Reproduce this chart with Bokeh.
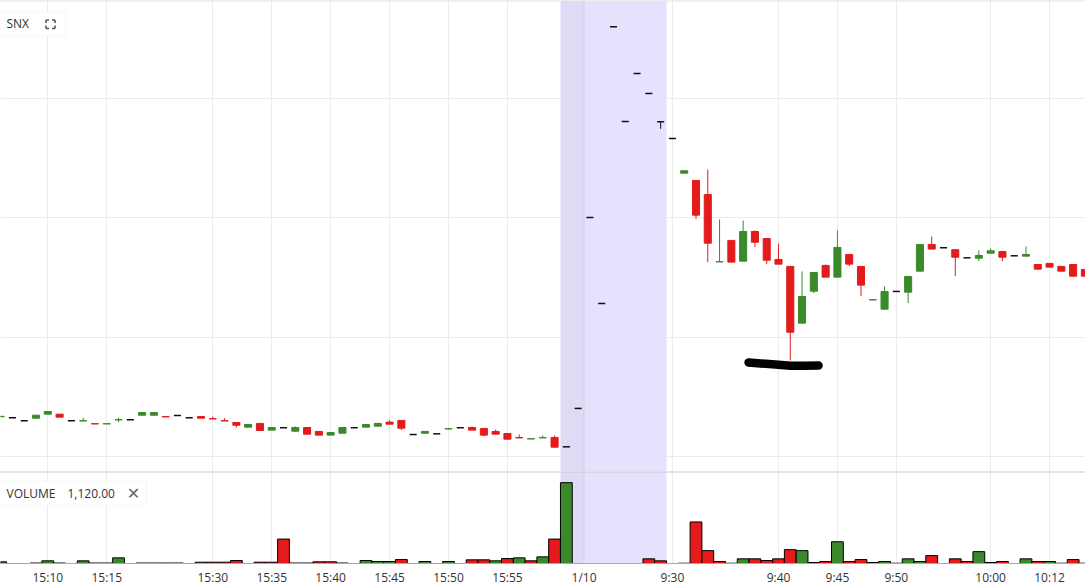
from bokeh.plotting import figure
from bokeh.layouts import column
from bokeh.models import Range1d, FixedTicker, BoxAnnotation, Span, Label, ColumnDataSource
from bokeh.embed import file_html
from bokeh.resources import INLINE

# ---------------- data ----------------
symbol = "SNX"
tick_pos = [4, 9, 18, 23, 28, 33, 38, 43, 49.5, 57, 66, 71, 76, 84, 89]
tick_labels = ["15:10", "15:15", "15:30", "15:35", "15:40", "15:45", "15:50", "15:55",
               "1/10", "9:30", "9:40", "9:45", "9:50", "10:00", "10:12"]

opens = [108.333, 108.325, 108.299, 108.321, 108.355, 108.355, 108.299, 108.298, 108.275, 108.273,
         108.307, 108.308, 108.346, 108.346, 108.334, 108.344, 108.325, 108.335, 108.317, 108.300,
         108.285, 108.246, 108.277, 108.221, 108.241, 108.212, 108.243, 108.210, 108.179, 108.195,
         108.241, 108.246, 108.254, 108.288, 108.302, 108.184, 108.195, 108.190, 108.231, 108.241,
         108.243, 108.235, 108.210, 108.193, 108.158, 108.147, 108.156, 108.159, 108.081, 108.403,
         110.004, 109.283, 111.604, 110.810, 111.212, 111.044, 110.807, 110.667, 110.376, 110.315,
         110.197, 109.632, 109.812, 109.638, 109.887, 109.828, 109.652, 109.594, 109.118, 109.386,
         109.602, 109.504, 109.694, 109.594, 109.313, 109.235, 109.384, 109.378, 109.554, 109.778,
         109.750, 109.734, 109.666, 109.663, 109.705, 109.719, 109.683, 109.680, 109.610, 109.619,
         109.594, 109.610, 109.568]
highs = [108.337, 108.325, 108.299, 108.346, 108.377, 108.355, 108.299, 108.325, 108.275, 108.275,
         108.325, 108.308, 108.369, 108.369, 108.334, 108.344, 108.325, 108.335, 108.335, 108.321,
         108.285, 108.268, 108.277, 108.243, 108.241, 108.252, 108.243, 108.210, 108.201, 108.243,
         108.241, 108.268, 108.285, 108.304, 108.302, 108.184, 108.210, 108.190, 108.237, 108.241,
         108.252, 108.235, 108.226, 108.193, 108.184, 108.149, 108.176, 108.176, 108.081, 108.403,
         110.004, 109.283, 111.604, 110.810, 111.212, 111.044, 110.807, 110.667, 110.396, 110.315,
         110.407, 109.988, 109.812, 109.979, 109.895, 109.828, 109.786, 109.594, 109.552, 109.543,
         109.610, 109.895, 109.694, 109.594, 109.315, 109.426, 109.384, 109.510, 109.778, 109.845,
         109.750, 109.734, 109.666, 109.728, 109.744, 109.719, 109.683, 109.761, 109.610, 109.619,
         109.594, 109.610, 109.568]
lows = [108.333, 108.325, 108.299, 108.321, 108.355, 108.330, 108.299, 108.298, 108.273, 108.273,
        108.288, 108.308, 108.346, 108.346, 108.332, 108.344, 108.325, 108.321, 108.315, 108.298,
        108.243, 108.246, 108.218, 108.221, 108.241, 108.212, 108.187, 108.179, 108.179, 108.195,
        108.241, 108.246, 108.254, 108.271, 108.221, 108.184, 108.195, 108.190, 108.226, 108.241,
        108.221, 108.170, 108.187, 108.137, 108.156, 108.147, 108.156, 108.078, 108.081, 108.403,
        110.004, 109.283, 111.604, 110.810, 111.212, 111.044, 110.748, 110.667, 110.376, 109.990,
        109.630, 109.632, 109.630, 109.638, 109.755, 109.613, 109.613, 108.805, 109.118, 109.370,
        109.504, 109.504, 109.596, 109.344, 109.313, 109.235, 109.384, 109.286, 109.554, 109.739,
        109.750, 109.512, 109.666, 109.638, 109.705, 109.638, 109.683, 109.680, 109.571, 109.588,
        109.554, 109.512, 109.512]
closes = [108.337, 108.325, 108.299, 108.346, 108.377, 108.330, 108.299, 108.300, 108.273, 108.275,
          108.309, 108.308, 108.369, 108.369, 108.332, 108.344, 108.325, 108.321, 108.315, 108.298,
          108.262, 108.268, 108.218, 108.243, 108.241, 108.243, 108.187, 108.179, 108.201, 108.243,
          108.241, 108.268, 108.277, 108.271, 108.237, 108.184, 108.210, 108.190, 108.233, 108.241,
          108.221, 108.179, 108.187, 108.145, 108.156, 108.149, 108.158, 108.078, 108.081, 108.403,
          110.004, 109.283, 111.604, 110.810, 111.212, 111.044, 110.807, 110.667, 110.396, 110.024,
          109.789, 109.634, 109.630, 109.887, 109.797, 109.646, 109.613, 109.042, 109.342, 109.543,
          109.504, 109.753, 109.613, 109.437, 109.315, 109.384, 109.384, 109.510, 109.778, 109.739,
          109.750, 109.671, 109.666, 109.686, 109.725, 109.671, 109.683, 109.694, 109.571, 109.588,
          109.554, 109.512, 109.512]

volumes = [476, 0, 0, 140, 756, 140, 0, 756, 140, 140,
           1596, 0, 140, 140, 140, 140, 0, 364, 364, 364,
           840, 0, 364, 364, 6916, 140, 140, 476, 476, 140,
           0, 840, 560, 560, 1120, 0, 560, 0, 560, 0,
           1036, 1036, 756, 1400, 1596, 756, 1876, 6916, 22876, 0,
           0, 0, 0, 0, 0, 1316, 756, 0, 84, 11760,
           3640, 560, 84, 1316, 1316, 840, 1316, 3920, 3640, 280,
           560, 6160, 560, 1120, 280, 560, 84, 1316, 560, 2240,
           0, 1316, 560, 3360, 280, 560, 0, 1316, 560, 560,
           84, 1120, 84]
vol_up = [1, 0, 0, 1, 1, 1, 0, 1, 1, 1,
          1, 0, 1, 1, 1, 1, 0, 1, 0, 0,
          0, 0, 0, 0, 0, 1, 1, 0, 0, 1,
          0, 1, 1, 1, 0, 0, 1, 0, 1, 0,
          0, 0, 1, 0, 1, 0, 1, 0, 1, 0,
          0, 0, 0, 0, 0, 0, 0, 0, 1, 0,
          0, 0, 1, 1, 0, 0, 0, 0, 1, 1,
          0, 1, 0, 0, 0, 1, 1, 1, 1, 0,
          0, 0, 0, 1, 1, 0, 0, 1, 0, 1,
          1, 0, 1]
volume_readout = "1,120.00"

price_grid = [108, 109, 110, 111]
after_hours = (47.5, 49.5)
pre_market = (49.5, 56.5)

markup_x = [63.46, 64.48, 65.75, 67.02, 68.29, 69.40]
markup_y = [108.788, 108.780, 108.772, 108.761, 108.761, 108.763]

# ---------------- styling ----------------
GREEN = "#3a8a2b"
RED = "#e31b1b"
DOJI = "#111111"
GRID = "#ebebeb"
FONT = "Open Sans"

W = 1085
H_MAIN = 471
H_VOL = 117

x_lo, x_hi = -0.014, 92.05
p_lo, p_hi = 107.874, 111.824
v_hi = 26040

# helpers mapping reference-layout pixel positions to data units (for overlay boxes)
def ref_x(px):
    return (px - 0.16) / 11.785

def ref_price(py):
    return 111 - (py - 98.3) / 119.23

def ref_vol(py):
    return (564 - py) * 280

xr = Range1d(x_lo, x_hi)

p = figure(width=W, height=H_MAIN, x_range=xr, y_range=Range1d(p_lo, p_hi),
           output_backend="svg", toolbar_location=None, min_border=0)
p.xaxis.visible = False
p.yaxis.visible = False
p.outline_line_color = None
p.xgrid.ticker = FixedTicker(ticks=tick_pos)
p.ygrid.ticker = FixedTicker(ticks=price_grid)
p.xgrid.grid_line_color = GRID
p.ygrid.grid_line_color = GRID
p.background_fill_color = "white"

pv = figure(width=W, height=H_VOL, x_range=xr, y_range=Range1d(0, v_hi),
            output_backend="svg", toolbar_location=None, min_border=0)
pv.yaxis.visible = False
pv.outline_line_color = None
pv.ygrid.grid_line_color = None
pv.xgrid.ticker = FixedTicker(ticks=tick_pos)
pv.xgrid.grid_line_color = GRID
pv.xaxis.ticker = FixedTicker(ticks=tick_pos)
pv.xaxis.major_label_overrides = {t: l for t, l in zip(tick_pos, tick_labels)}
pv.xaxis.major_tick_line_color = None
pv.xaxis.minor_tick_line_color = None
pv.xaxis.major_tick_out = 0
pv.xaxis.major_tick_in = 0
pv.xaxis.axis_line_color = "#a8a8a8"
pv.xaxis.major_label_text_font = FONT
pv.xaxis.major_label_text_font_size = "12px"
pv.xaxis.major_label_text_color = "#333333"
pv.xaxis.major_label_standoff = 5

# session shading
for fig in (p, pv):
    fig.add_layout(BoxAnnotation(left=after_hours[0], right=after_hours[1], fill_color="#dddbf5",
                                 fill_alpha=1, line_color=None, level="underlay"))
    fig.add_layout(BoxAnnotation(left=pre_market[0], right=pre_market[1], fill_color="#e6e2fd",
                                 fill_alpha=1, line_color=None, level="underlay"))
    fig.add_layout(Span(location=tick_pos[tick_labels.index("1/10")], dimension="height",
                        line_color="#d2d0e6", line_width=1, level="underlay"))

# pane borders
p.add_layout(Span(location=p_hi, dimension="width", line_color="#e2e2e2", line_width=2))
pv.add_layout(Span(location=v_hi, dimension="width", line_color="#c8c8c8", line_width=2))

# ---------------- candles ----------------
n = len(opens)
xs = list(range(n))
cols = [GREEN if c > o else (RED if c < o else DOJI) for o, c in zip(opens, closes)]

wick_idx = [i for i in xs if highs[i] > lows[i]]
p.segment(x0=[xs[i] for i in wick_idx], x1=[xs[i] for i in wick_idx],
          y0=[lows[i] for i in wick_idx], y1=[highs[i] for i in wick_idx],
          line_color=[cols[i] for i in wick_idx], line_width=1)

body_idx = [i for i in xs if opens[i] != closes[i]]
bsrc = ColumnDataSource(dict(
    x=[xs[i] for i in body_idx],
    top=[max(opens[i], closes[i]) for i in body_idx],
    bottom=[min(opens[i], closes[i]) for i in body_idx],
    color=[cols[i] for i in body_idx]))
p.vbar(x="x", top="top", bottom="bottom", width=0.6, fill_color="color",
       line_color="color", line_width=1, source=bsrc)

doji_idx = [i for i in xs if opens[i] == closes[i]]
p.segment(x0=[xs[i] - 0.3 for i in doji_idx], x1=[xs[i] + 0.3 for i in doji_idx],
          y0=[closes[i] for i in doji_idx], y1=[closes[i] for i in doji_idx],
          line_color=DOJI, line_width=1.5)

# hand-drawn marker stroke
p.line(markup_x, markup_y, line_color="black", line_width=8.5, line_cap="round", line_join="round")

# ---------------- volume ----------------
vidx = [i for i in xs if volumes[i] > 0]
vsrc = ColumnDataSource(dict(
    x=[xs[i] for i in vidx],
    top=[volumes[i] for i in vidx],
    color=[GREEN if vol_up[i] else RED for i in vidx]))
pv.vbar(x="x", top="top", bottom=0, width=1.0, fill_color="color",
        line_color="black", line_width=1, source=vsrc)

# ---------------- legend overlays ----------------
p.add_layout(BoxAnnotation(left=ref_x(-3), right=ref_x(65), top=ref_price(12), bottom=ref_price(35),
                           fill_color="white", fill_alpha=1, line_color="#e6e6e6", line_width=1,
                           level="underlay"))
p.add_layout(Label(x=ref_x(6), y=ref_price(23.5), text=symbol, text_baseline="middle",
                   text_align="left", text_font=FONT, text_font_size="12px", text_color="#333333"))
L_, R_, T_, B_, A_ = 45.5, 54.5, 19.5, 28, 3
icon = [((L_, T_), (L_ + A_, T_)), ((L_, T_), (L_, T_ + A_)),
        ((R_ - A_, T_), (R_, T_)), ((R_, T_), (R_, T_ + A_)),
        ((L_, B_), (L_ + A_, B_)), ((L_, B_ - A_), (L_, B_)),
        ((R_ - A_, B_), (R_, B_)), ((R_, B_ - A_), (R_, B_))]
p.segment(x0=[ref_x(a[0]) for a, b in icon], x1=[ref_x(b[0]) for a, b in icon],
          y0=[ref_price(a[1]) for a, b in icon], y1=[ref_price(b[1]) for a, b in icon],
          line_color="#555555", line_width=1.6)

pv.add_layout(BoxAnnotation(left=ref_x(-3), right=ref_x(146), top=ref_vol(481), bottom=ref_vol(505),
                            fill_color="white", fill_alpha=1, line_color="#e6e6e6", line_width=1,
                            level="underlay"))
pv.add_layout(Label(x=ref_x(6), y=ref_vol(493), text="VOLUME", text_baseline="middle",
                    text_align="left", text_font=FONT, text_font_size="12px", text_color="#333333"))
pv.add_layout(Label(x=ref_x(67), y=ref_vol(493), text=volume_readout, text_baseline="middle",
                    text_align="left", text_font=FONT, text_font_size="12px", text_color="#333333"))
pv.add_layout(Label(x=ref_x(133), y=ref_vol(493), text="✕", text_baseline="middle",
                    text_align="center", text_font="DejaVu Sans", text_font_size="16px",
                    text_color="#666666"))

layout = column(p, pv, spacing=0)
open("out.html", "w").write(file_html(layout, INLINE))
